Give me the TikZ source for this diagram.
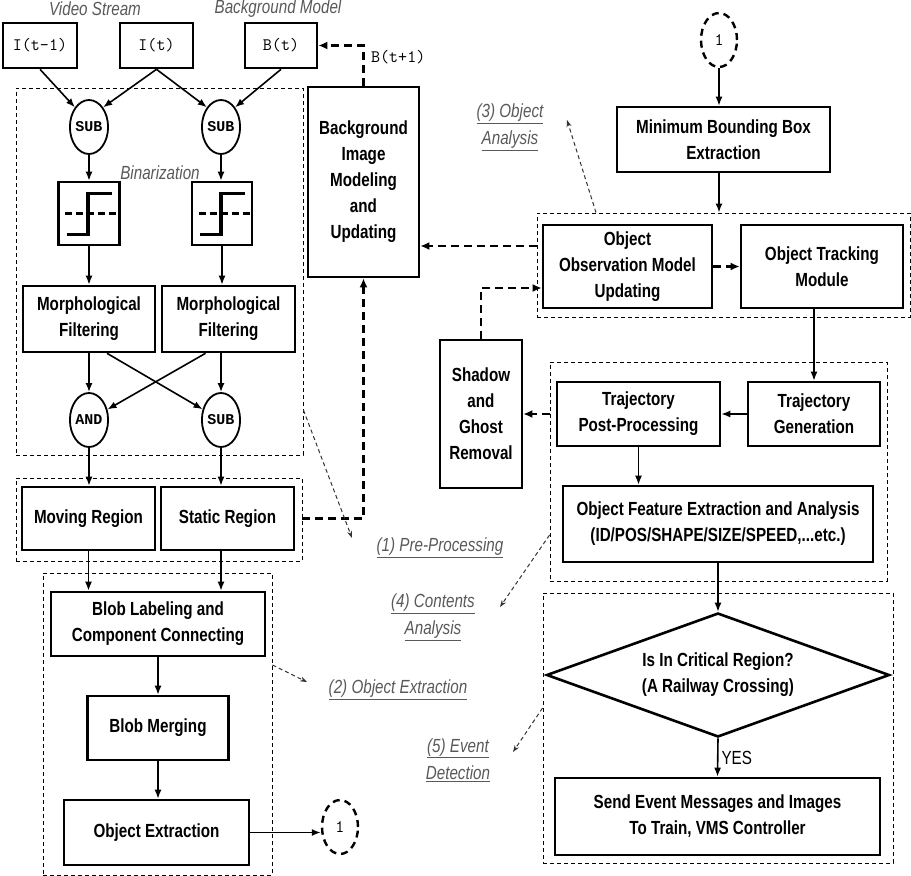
\documentclass[tikz,border=0pt]{standalone}
\usepackage{fontspec}
\setmainfont{Liberation Sans}[FakeStretch=0.8]
\newfontfamily\opfamily{Liberation Mono}
\usepackage{tikz}
\usetikzlibrary{shapes.geometric,arrows.meta,calc}

\newcommand{\boxfont}{\bfseries\fontsize{19}{26}\selectfont}
\newcommand{\tagfont}{\itshape\fontsize{19}{27}\selectfont}
\newcommand{\sigfont}{\ttfamily\fontsize{17.5}{20}\selectfont}
\newcommand{\opfont}{\opfamily\bfseries\fontsize{15}{18}\selectfont}

\begin{document}
\begin{tikzpicture}[x=1pt,y=-1pt]
	\tikzstyle{every node}+=[inner sep=0pt]
	\tikzstyle{blockbox}=[draw, line width=2.6pt, align=center, font=\boxfont]
	\tikzstyle{sigbox}=[draw, line width=2.6pt, font=\sigfont, minimum height=45]
	\tikzstyle{opnode}=[draw, ellipse, line width=1.8pt, minimum width=38, minimum height=54, font=\opfont]
	\tikzstyle{joint}=[draw, ellipse, line width=2.4pt, dash pattern=on 7pt off 5pt, minimum width=36, minimum height=54, font=\sigfont]
	\tikzstyle{group}=[draw, line width=0.9pt, dash pattern=on 4pt off 3pt]
	\tikzstyle{tag}=[font=\tagfont, text=black!65, align=center]
	\tikzstyle{link}=[line width=1.6pt, -{Latex[length=9pt,width=7pt]}]
	\tikzstyle{dlink}=[line width=2.2pt, dash pattern=on 8pt off 5pt, -{Latex[length=9pt,width=8pt]}]
	\tikzstyle{pointer}=[line width=1pt, black!80, dash pattern=on 4pt off 3pt, -{Stealth[length=7pt,width=5pt]}]
	\tikzstyle{stepline}=[line width=3.6pt]

	\useasboundingbox (0,0) rectangle (911,876);

	% dashed stage frames
	\node[group, minimum width=287, minimum height=367] (grpPre) at (159.5,271.5) {};
	\node[group, minimum width=286, minimum height=83] (grpReg) at (159,519.5) {};
	\node[group, minimum width=229, minimum height=302] (grpExt) at (157.5,724) {};
	\node[group, minimum width=373, minimum height=104] (grpAna) at (723.5,265) {};
	\node[group, minimum width=337, minimum height=219] (grpCon) at (718.5,471.5) {};
	\node[group, minimum width=350, minimum height=270] (grpEvt) at (718,728) {};

	% inputs
	\node[tag] (capVid) at (95,9) {Video Stream};
	\node[tag] (capBg) at (278,9) {Background Model};
	\node[sigbox, minimum width=74] (imgPrev) at (40,45.5) {I(t-1)};
	\node[sigbox, minimum width=73] (imgCur) at (156.5,45.5) {I(t)};
	\node[sigbox, minimum width=72] (bgCur) at (281,45.5) {B(t)};

	% pre-processing
	\node[opnode] (subPrev) at (89,127) {SUB};
	\node[opnode] (subBg) at (221,127) {SUB};
	\node[blockbox, minimum width=61, minimum height=63] (binPrev) at (89,213.5) {};
	\node[blockbox, minimum width=60, minimum height=63] (binBg) at (222,213.5) {};
	\node[tag] (capBin) at (160,173) {Binarization};
	\node[blockbox, minimum width=132, minimum height=66] (morPrev) at (89,319) {Morphological\\Filtering};
	\node[blockbox, minimum width=133, minimum height=66] (morBg) at (228.5,319) {Morphological\\Filtering};
	\node[opnode] (andOp) at (89,420) {AND};
	\node[opnode] (subOp) at (221,420) {SUB};
	\node[blockbox, minimum width=133, minimum height=63] (movReg) at (88.5,518.5) {Moving Region};
	\node[blockbox, minimum width=133, minimum height=63] (staReg) at (227.5,518.5) {Static Region};
	\node[blockbox, minimum width=111, minimum height=190] (bgMod) at (363.5,182) {Background\\Image\\Modeling\\and\\Updating};

	% object extraction
	\node[blockbox, minimum width=214, minimum height=64] (blobLab) at (158,624) {Blob Labeling and\\Component Connecting};
	\node[blockbox, minimum width=141, minimum height=64] (blobMer) at (158,728) {Blob Merging};
	\node[blockbox, minimum width=185, minimum height=65] (objExt) at (156.5,832.5) {Object Extraction};
	\node[joint] (jmpOut) at (340,827) {1};

	% object analysis
	\node[joint] (jmpIn) at (719,40) {1};
	\node[blockbox, minimum width=213, minimum height=65] (mbbExt) at (723.5,139.5) {Minimum Bounding Box\\Extraction};
	\node[blockbox, minimum width=169, minimum height=83] (obsUpd) at (627.5,266.5) {Object\\Observation Model\\Updating};
	\node[blockbox, minimum width=162, minimum height=83] (trkMod) at (822,266.5) {Object Tracking\\Module};
	\node[blockbox, minimum width=82, minimum height=148] (shdRem) at (481,414) {Shadow\\and\\Ghost\\Removal};

	% contents analysis and event detection
	\node[blockbox, minimum width=163, minimum height=64] (trjPost) at (638.5,414) {Trajectory\\Post-Processing};
	\node[blockbox, minimum width=132, minimum height=64] (trjGen) at (814,414) {Trajectory\\Generation};
	\node[blockbox, minimum width=310, minimum height=76] (objFeat) at (718,524) {Object Feature Extraction and Analysis\\(ID/POS/SHAPE/SIZE/SPEED,...etc.)};
	\node[blockbox, diamond, aspect=2.77, minimum width=343, minimum height=124] (critReg) at (718,675) {Is In Critical Region?\\(A Railway Crossing)};
	\node[blockbox, minimum width=325, minimum height=77] (sendEvt) at (717.5,816.5) {Send Event Messages and Images\\To Train, VMS Controller};

	% stage captions
	\node[tag] (tagPre) at (440,548) {\underline{(1) Pre-Processing}};
	\node[tag] (tagExt) at (398,690) {\underline{(2) Object Extraction}};
	\node[tag] (tagAna) at (510,127) {\underline{(3) Object}\\\underline{Analysis}};
	\node[tag] (tagCon) at (433,617) {\underline{(4) Contents}\\\underline{Analysis}};
	\node[tag] (tagEvt) at (458,760) {\underline{(5) Event}\\\underline{Detection}};
	\coordinate (ptPre) at (352,538);
	\coordinate (ptExt) at (307,682);
	\coordinate (ptAna) at (567,120);
	\coordinate (ptCon) at (500,607);
	\coordinate (ptEvt) at (513,752);

	% threshold symbols
	\foreach \b in {binPrev,binBg} {
		\draw[stepline] ($(\b)+(-22,21)$) -- ($(\b)+(-1,21)$) -- ($(\b)+(-1,-20)$) -- ($(\b)+(23,-20)$);
		\draw[stepline, dash pattern=on 7pt off 4pt] ($(\b.west)+(8,0)$) -- ($(\b.east)+(-2,0)$);
	}

	\draw[link] (imgPrev.south) -- (subPrev.north west);
	\draw[link] (imgCur.south) -- (subPrev.north east);
	\draw[link] (imgCur.south) -- (subBg.north west);
	\draw[link] (bgCur.south) -- (subBg.north east);
	\draw[link] (subPrev.south) -- (binPrev.north);
	\draw[link] (subBg.south) -- (subBg.south |- binBg.north);
	\draw[link] (binPrev.south) -- (binPrev.south |- morPrev.north);
	\draw[link] (binBg.south) -- (binBg.south |- morBg.north);
	\draw[link] (morPrev.south) -- (andOp.north);
	\draw[link] (subOp.north |- morBg.south) -- (subOp.north);
	\draw[link] ([xshift=18pt]morPrev.south) -- (subOp);
	\draw[link] ([xshift=-23pt]morBg.south) -- (andOp);
	\draw[link] (andOp.south) -- (andOp.south |- movReg.north);
	\draw[link] (subOp.south) -- (subOp.south |- staReg.north);
	\draw[link] (movReg.south) -- (movReg.south |- blobLab.north);
	\draw[link] (subOp.south |- staReg.south) -- (subOp.south |- blobLab.north);
	\draw[link] (blobLab.south) -- (blobMer.north);
	\draw[link] (blobMer.south) -- (blobMer.south |- objExt.north);
	\draw[link] (objExt.east) -- (objExt.east -| jmpOut.west);

	\draw[dlink] (grpReg.east |- staReg.east) -| (bgMod.south);
	\draw[dlink] (bgMod.north) |- (bgCur.east);
	\node[font=\sigfont, anchor=west] (bgNext) at (371,57) {B(t+1)};
	\draw[dlink] (grpAna.west |- 0,246) -- (bgMod.east |- 0,246);
	\draw[dlink] (shdRem.north) |- (obsUpd.west |- 0,288);
	\draw[dlink] (obsUpd.east) -- (trkMod.west);
	\draw[dlink] (grpCon.west |- shdRem.east) -- (shdRem.east);

	\draw[link] (jmpIn.south) -- (jmpIn.south |- mbbExt.north);
	\draw[link] (jmpIn.south |- mbbExt.south) -- (jmpIn.south |- grpAna.north);
	\draw[link] (trjGen.north |- trkMod.south) -- (trjGen.north);
	\draw[link] (trjGen.west) -- (trjPost.east);
	\draw[link] (trjPost.south) -- (trjPost.south |- objFeat.north);
	\draw[link] (objFeat.south) -- (critReg.north);
	\draw[link] (critReg.south) -- node[right=3pt, font=\fontsize{19}{22}\selectfont] {YES} (sendEvt.north);

	\draw[pointer] (grpPre.east |- 0,410) -- (ptPre);
	\draw[pointer] (grpExt.east |- 0,665) -- (ptExt);
	\draw[pointer] (grpAna.north -| 596,0) -- (ptAna);
	\draw[pointer] (grpCon.west |- 0,535) -- (ptCon);
	\draw[pointer] (grpEvt.west |- 0,708) -- (ptEvt);
\end{tikzpicture}
\end{document}
